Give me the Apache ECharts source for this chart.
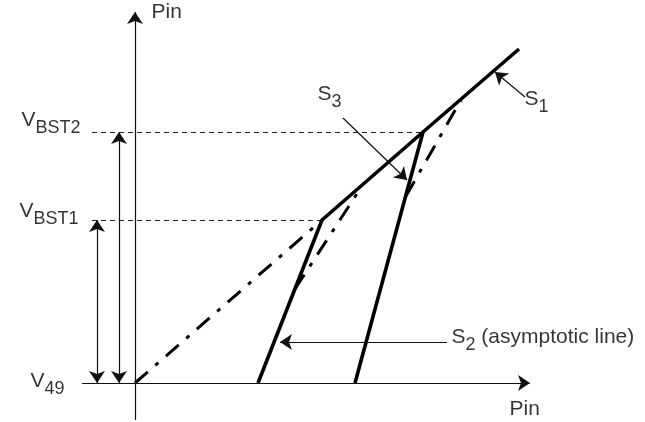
<!DOCTYPE html>
<html>
<head>
<meta charset="utf-8">
<script src="https://cdn.jsdelivr.net/npm/echarts@6/dist/echarts.min.js"></script>
<style>
  html, body { margin: 0; background: #fff; }
  #chart { width: 645px; height: 422px; }
</style>
</head>
<body>
<div id="chart"></div>
<script>
// units: origin = (Pin 0, V49), one unit ~ one px of the drawing
const levelNames = ['49', 'BST1', 'BST2'];
const levelValues = [0, 163, 251];

const s1Line = [[187, 163], [288, 251], [384, 334]];
const s2Low = [[123, 0], [187, 163]];
const s2High = [[220, 0], [288, 251]];
const s1Extension = [[0, 0], [187, 163]];
const s3Low = [[160, 94], [227, 197]];
const s3High = [[271, 187], [326, 283]];

const xAxisSpan = [-53, 395];
const yAxisSpan = [-37, 371];
const spanArrowX = [-38, -16]; // VBST1, VBST2 range arrows
const levelLineStart = -43;

const calloutFrom = [[390, 286], [312, 41], [208, 265]]; // S1, S2, S3
const calloutTo = [[360, 311], [145, 41], [272, 203]];
const calloutText = ['{m|S}{s|1}', '{m|S}{s|2}{m| (asymptotic line)}', '{m|S}{s|3}'];
const calloutTextAt = [[390, 294], [317, 56], [183, 299]];

const axisTitles = ['Pin', 'Pin'];
const axisTitleAt = [[17, 381], [375, -16]];
const levelTextAt = [[-70, 12], [-56, 182], [-54, 273]]; // right edges

const chart = echarts.init(document.getElementById('chart'));

const thick = { color: '#000', width: 3.6 };
const dashDot = { color: '#000', width: 3, type: [17, 10, 4, 10], cap: 'butt' };

function lineSeries(data, style) {
  return {
    type: 'line', data: data, showSymbol: false, symbol: 'none',
    lineStyle: style, animation: false, silent: true, z: 3
  };
}

const arrowLines = [];
// axes
arrowLines.push({ coords: [[xAxisSpan[0], 0], [xAxisSpan[1], 0]], symbol: ['none', 'arrow'] });
arrowLines.push({ coords: [[0, yAxisSpan[0]], [0, yAxisSpan[1]]], symbol: ['none', 'arrow'] });
// level ranges
spanArrowX.forEach((x, i) => {
  arrowLines.push({ coords: [[x, levelValues[0]], [x, levelValues[i + 1]]], symbol: ['arrow', 'arrow'] });
});
calloutFrom.forEach((p, i) => {
  arrowLines.push({ coords: [p, calloutTo[i]], symbol: ['none', 'arrow'] });
});

const levelDashes = levelValues.slice(1).map((v, i) => ({
  coords: [[levelLineStart, v], [i === 0 ? s1Line[0][0] : s1Line[1][0], v]]
}));

const rich = {
  m: { fontFamily: 'Liberation Sans, Arial', fontSize: 21, lineHeight: 24, color: '#000', verticalAlign: 'top' },
  s: { fontFamily: 'Liberation Sans, Arial', fontSize: 18, lineHeight: 20, color: '#000', verticalAlign: 'top', padding: [10, 0, 0, 0] }
};

const textPoints = [];
axisTitles.forEach((t, i) => textPoints.push({ value: axisTitleAt[i], text: '{m|' + t + '}', align: 'left' }));
calloutText.forEach((t, i) => textPoints.push({ value: calloutTextAt[i], text: t, align: 'left' }));
levelNames.forEach((t, i) => textPoints.push({ value: levelTextAt[i], text: '{m|V}{s|' + t + '}', align: 'right' }));

chart.setOption({
  animation: false,
  backgroundColor: '#fff',
  grid: { left: 0, right: 0, top: 0, bottom: 0 },
  xAxis: { type: 'value', min: -135, max: 510, show: false },
  yAxis: { type: 'value', min: -39, max: 383, show: false },
  series: [
    {
      type: 'lines', coordinateSystem: 'cartesian2d', silent: true, z: 2,
      lineStyle: { color: '#222', width: 1, type: [5, 4], opacity: 1 },
      data: levelDashes
    },
    {
      type: 'lines', coordinateSystem: 'cartesian2d', silent: true, z: 4,
      symbolSize: 12,
      lineStyle: { color: '#111', width: 1.2, opacity: 1 },
      data: arrowLines
    },
    lineSeries(s1Extension, dashDot),
    lineSeries(s3Low, dashDot),
    lineSeries(s3High, dashDot),
    lineSeries(s1Line, thick),
    lineSeries(s2Low, thick),
    lineSeries(s2High, thick),
    {
      type: 'scatter', symbolSize: 1, silent: true, z: 5,
      itemStyle: { color: 'rgba(0,0,0,0)' },
      label: {
        show: true, position: [0, 0], verticalAlign: 'top',
        formatter: (p) => p.data.text, rich: rich
      },
      data: textPoints.map((d) => ({ value: d.value, text: d.text, label: { align: d.align } }))
    }
  ]
});
</script>
</body>
</html>
